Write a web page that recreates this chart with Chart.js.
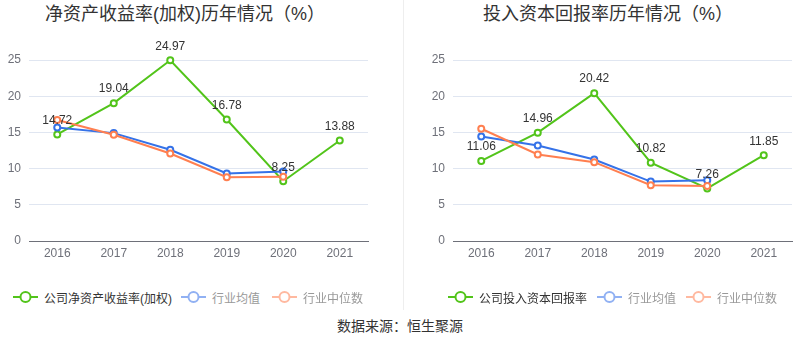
<!DOCTYPE html>
<html>
<head>
<meta charset="utf-8">
<script src="https://cdn.jsdelivr.net/npm/chart.js@4.4.1/dist/chart.umd.min.js"></script>
<style>
  html, body { margin:0; padding:0; background:#fff; }
  body { width:800px; height:358px; position:relative; overflow:hidden;
         font-family:"Liberation Sans","Noto Sans CJK SC",sans-serif; }
  .title { position:absolute; top:3px; font-size:18px; color:#333; white-space:nowrap; line-height:22px; transform:translateX(-50%); }
  .cv { position:absolute; top:0; width:400px; height:280px; }
  .sep { position:absolute; left:403px; top:0; width:1px; height:310px; background:#eeeeee; }
  .legend { position:absolute; top:289px; height:16px; font-size:12px; white-space:nowrap; }
  .item { position:absolute; top:0; display:flex; align-items:center; height:16px; }
  .item svg { margin-right:6px; }
  .source { position:absolute; top:315px; left:400px; transform:translateX(-50%); font-size:14px; color:#333; white-space:nowrap; }
</style>
</head>
<body>
<div class="title" style="left:185px">净资产收益率(加权)历年情况（%）</div>
<div class="title" style="left:608px">投入资本回报率历年情况（%）</div>
<div class="cv" style="left:0"><canvas id="c1" width="400" height="280"></canvas></div>
<div class="cv" style="left:400px"><canvas id="c2" width="400" height="280"></canvas></div>
<div class="sep"></div>
<div class="legend" id="lg1" style="left:0"></div>
<div class="legend" id="lg2" style="left:0"></div>
<div class="source">数据来源：恒生聚源</div>
<script>
const years = ['2016','2017','2018','2019','2020','2021'];
const yTicks = [0, 5, 10, 15, 20, 25];

const roeCompany = [14.72, 19.04, 24.97, 16.78, 8.25, 13.88];
const roeMean    = [15.68, 14.90, 12.60, 9.32, 9.60, null];
const roeMedian  = [16.70, 14.67, 12.08, 8.80, 8.86, null];

const roicCompany = [11.06, 14.96, 20.42, 10.82, 7.26, 11.85];
const roicMean    = [14.44, 13.19, 11.25, 8.21, 8.39, null];
const roicMedian  = [15.50, 11.95, 10.89, 7.70, 7.61, null];

const names1 = ['公司净资产收益率(加权)', '行业均值', '行业中位数'];
const names2 = ['公司投入资本回报率', '行业均值', '行业中位数'];

const GREEN = '#52c41a', BLUE = '#3572e8', ORANGE = '#ff7f50';
const GREEN_L = '#52c41a', BLUE_L = '#91b1f3', ORANGE_L = '#ffb9a0';

const labelPlugin = {
  id: 'valLabels',
  afterDatasetsDraw(chart) {
    const ctx = chart.ctx;
    const meta = chart.getDatasetMeta(0);
    const data = chart.data.datasets[0].data;
    ctx.save();
    ctx.font = '12px "Liberation Sans", sans-serif';
    ctx.fillStyle = '#333';
    ctx.textAlign = 'center';
    ctx.textBaseline = 'middle';
    meta.data.forEach((pt, i) => {
      if (data[i] == null) return;
      ctx.fillText(data[i].toFixed(2), pt.x, pt.y - 14);
    });
    ctx.restore();
  }
};

function ds(label, data, color, order) {
  return {
    label, data, borderColor: color, backgroundColor: '#fff',
    borderWidth: 2, pointRadius: 3, pointBorderWidth: 2,
    pointBackgroundColor: '#fff', pointBorderColor: color,
    tension: 0, order, spanGaps: false, clip: false
  };
}

function makeChart(id, company, mean, median, names, leftW, padRight) {
  return new Chart(document.getElementById(id), {
    type: 'line',
    data: {
      labels: years,
      datasets: [
        ds(names[0], company, GREEN, 3),
        ds(names[1], mean, BLUE, 2),
        ds(names[2], median, ORANGE, 1)
      ]
    },
    options: {
      responsive: false, animation: false,
      layout: { padding: { left: 0, right: padRight, top: 60, bottom: 0 } },
      plugins: { legend: { display: false }, title: { display: false }, tooltip: { enabled: false } },
      scales: {
        x: {
          offset: true,
          grid: { display: false, drawTicks: false },
          border: { display: true, color: '#6e7079', width: 1 },
          ticks: { color: '#6e7079', font: { size: 12, family: '"Liberation Sans", sans-serif' }, padding: 5, maxRotation: 0 },
          afterFit(s) { s.height = 39; }
        },
        y: {
          min: 0, max: 25,
          afterBuildTicks(s) { s.ticks = yTicks.map(v => ({ value: v })); },
          grid: { color: '#e0e6f1', drawTicks: false },
          border: { display: false },
          ticks: { color: '#6e7079', font: { size: 12, family: '"Liberation Sans", sans-serif' }, padding: 8 },
          afterFit(s) { s.width = leftW; }
        }
      }
    },
    plugins: [labelPlugin]
  });
}

makeChart('c1', roeCompany, roeMean, roeMedian, names1, 29, 32);
makeChart('c2', roicCompany, roicMean, roicMedian, names2, 53, 8);

function icon(color) {
  return '<svg width="25" height="14" viewBox="0 0 25 14"><line x1="0" y1="7" x2="25" y2="7" stroke="' + color +
    '" stroke-width="2"/><circle cx="12.5" cy="7" r="5" fill="#fff" stroke="' + color + '" stroke-width="2"/></svg>';
}
function legend(elId, names, xs) {
  const el = document.getElementById(elId);
  const cols = [GREEN_L, BLUE_L, ORANGE_L];
  const tcols = ['#333', '#999', '#999'];
  names.forEach((n, i) => {
    const d = document.createElement('div');
    d.className = 'item';
    d.style.left = xs[i] + 'px';
    d.innerHTML = icon(cols[i]) + '<span style="color:' + tcols[i] + '">' + n + '</span>';
    el.appendChild(d);
  });
}
legend('lg1', names1, [13, 181, 272]);
legend('lg2', names2, [448, 597, 686]);
</script>
</body>
</html>
